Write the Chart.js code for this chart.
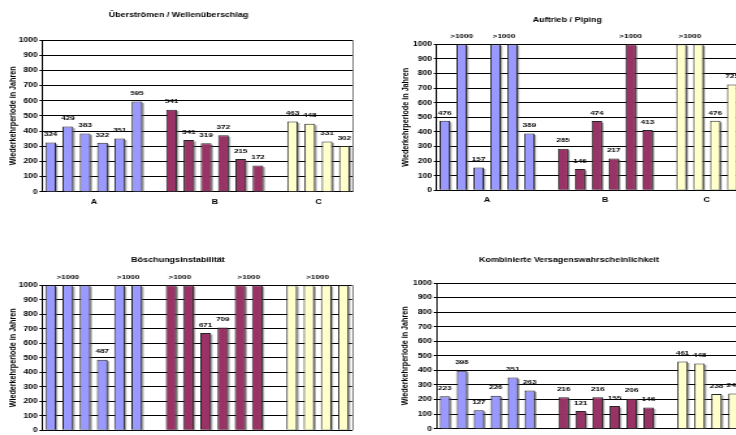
<!DOCTYPE html>
<html>
<head>
<meta charset="utf-8">
<script src="https://cdn.jsdelivr.net/npm/chart.js@4/dist/chart.umd.min.js"></script>
<style>
html, body { margin: 0; padding: 0; background: #fff; overflow: hidden; width: 736px; height: 435px; }
body { position: relative; }
canvas { position: absolute; }
</style>
</head>
<body>
<canvas id="chartUeber"></canvas>
<canvas id="chartPiping"></canvas>
<canvas id="chartBoeschung"></canvas>
<canvas id="chartKombi"></canvas>
<script>
// ---- data ----
const groups = ['A', 'B', 'C'];
const OVER = '>1000';            // return period beyond the axis range
const yMin = 0, yMax = 1000, yStep = 100;
const yTitle = 'Wiederkehrperiode in Jahren';

const titleUeber = 'Überströmen / Wellenüberschlag';
const ueberA = [324, 429, 383, 322, 351, 595];
const ueberB = [541, 341, 319, 372, 215, 172];
const ueberC = [463, 448, 331, 302];

const titlePiping = 'Auftrieb / Piping';
const pipingA = [476, OVER, 157, OVER, OVER, 389];
const pipingB = [285, 146, 474, 217, OVER, 413];
const pipingC = [OVER, OVER, 476, 725];

const titleBoeschung = 'Böschungsinstabilität';
const boeschungA = [OVER, OVER, OVER, 487, OVER, OVER];
const boeschungB = [OVER, OVER, 671, 709, OVER, OVER];
const boeschungC = [OVER, OVER, OVER, OVER];

const titleKombi = 'Kombinierte Versagenswahrscheinlichkeit';
const kombiA = [223, 398, 127, 226, 351, 263];
const kombiB = [216, 121, 216, 155, 206, 146];
const kombiC = [461, 448, 238, 242];

// ---- styling ----
const FAMILY = "'Liberation Sans', Arial, Helvetica, sans-serif";
const groupColors = ['#9999FF', '#993366', '#FFFFCC'];
const SX = 1.3;          // horizontal stretch of the drawing surface
const LABEL_GAP = 8;     // distance of bar labels above the bar top

// bar shadow, drawn behind the bars
const shadowPlugin = {
  id: 'barShadow',
  beforeDatasetsDraw(chart) {
    const ctx = chart.ctx, a = chart.chartArea;
    ctx.save();
    ctx.beginPath();
    ctx.rect(a.left, a.top, a.right - a.left + 4, a.bottom - a.top);
    ctx.clip();
    ctx.fillStyle = 'rgba(90,90,90,0.55)';
    chart.data.datasets.forEach((ds, di) => {
      chart.getDatasetMeta(di).data.forEach(bar => {
        const p = bar.getProps(['x', 'y', 'base', 'width'], true);
        ctx.fillRect(p.x - p.width / 2 + 1.2, p.y + 1.5, p.width, p.base - p.y);
      });
    });
    ctx.restore();
  }
};

// value labels; one label for each run of bars beyond the axis range
const labelPlugin = {
  id: 'barLabels',
  afterDatasetsDraw(chart) {
    const ctx = chart.ctx, a = chart.chartArea;
    ctx.save();
    ctx.fillStyle = '#000';
    ctx.textAlign = 'center';
    ctx.textBaseline = 'middle';
    chart.data.datasets.forEach((ds, di) => {
      const bars = chart.getDatasetMeta(di).data;
      const raw = ds.rawValues;
      ctx.font = `bold 6.2px ${FAMILY}`;
      raw.forEach((v, i) => {
        if (v !== OVER) ctx.fillText(String(v), bars[i].x, bars[i].y - LABEL_GAP);
      });
      let i = 0;
      while (i < raw.length) {
        if (raw[i] === OVER) {
          let j = i;
          while (j + 1 < raw.length && raw[j + 1] === OVER) j++;
          ctx.fillText(OVER, (bars[i].x + bars[j].x) / 2, a.top - LABEL_GAP);
          i = j + 1;
        } else i++;
      }
    });
    ctx.restore();
  }
};

// right edge of the plot area
const framePlugin = {
  id: 'plotFrame',
  afterDraw(chart) {
    const ctx = chart.ctx, a = chart.chartArea;
    ctx.save();
    ctx.strokeStyle = '#808080';
    ctx.lineWidth = 1;
    ctx.beginPath();
    ctx.moveTo(Math.round(a.right) + 0.5, a.top);
    ctx.lineTo(Math.round(a.right) + 0.5, a.bottom);
    ctx.stroke();
    ctx.restore();
  }
};

function buildChart(id, title, series, frame) {
  const cv = document.getElementById(id);
  cv.width = Math.round(frame.width / SX);
  cv.height = frame.height;
  cv.style.left = frame.left + 'px';
  cv.style.top = frame.top + 'px';
  cv.style.width = frame.width + 'px';
  cv.style.height = frame.height + 'px';

  // slot layout: bars of one group side by side, one empty slot between groups
  const starts = [];
  let pos = 0;
  series.forEach(vals => { starts.push(pos); pos += vals.length + 1; });
  const slotCount = pos - 1;
  const centers = series.map((vals, g) => starts[g] + (vals.length - 1) / 2);

  const datasets = series.map((vals, g) => ({
    label: groups[g],
    rawValues: vals,
    data: vals.map((v, i) => ({ x: starts[g] + i, y: v === OVER ? yMax : v })),
    backgroundColor: groupColors[g],
    borderColor: '#262626',
    borderWidth: 1,
    grouped: false,
    barPercentage: 0.62,
    categoryPercentage: 1
  }));

  const titleSize = 6.9, titleLH = titleSize * 1.2;
  const yTitleSize = 7.2, yTitleLH = yTitleSize * 1.2;
  const xTickSize = 6.8, xTickLH = xTickSize * 1.2;
  const yAxisW = (frame.plotLeft - frame.left) / SX;
  const padRight = (frame.left + frame.width - frame.plotRight) / SX;
  const xAxisH = frame.top + frame.height - frame.plotBottom;

  return new Chart(cv, {
    type: 'bar',
    data: { datasets },
    plugins: [shadowPlugin, labelPlugin, framePlugin],
    options: {
      responsive: false,
      animation: false,
      devicePixelRatio: 1,
      layout: { padding: { left: 0, top: 0, right: padRight, bottom: 0 } },
      plugins: {
        legend: { display: false },
        tooltip: { enabled: false },
        title: {
          display: true,
          text: title,
          color: '#000',
          font: { family: FAMILY, size: titleSize, weight: 'bold', lineHeight: 1.2 },
          padding: {
            top: frame.titleY - frame.top - titleLH / 2,
            bottom: frame.plotTop - frame.titleY - titleLH / 2
          }
        }
      },
      scales: {
        x: {
          type: 'linear',
          min: -0.5,
          max: slotCount - 0.5,
          offset: false,
          grid: { display: false, drawTicks: false },
          border: { display: true, color: '#000', width: 1 },
          afterBuildTicks: s => { s.ticks = centers.map(v => ({ value: v })); },
          afterFit: s => { s.height = xAxisH; },
          ticks: {
            autoSkip: false,
            maxRotation: 0,
            padding: 10 - xTickLH / 2,
            color: '#000',
            font: { family: FAMILY, size: xTickSize, weight: 'bold', lineHeight: 1.2 },
            callback: v => groups[centers.indexOf(v)]
          }
        },
        y: {
          min: yMin,
          max: yMax,
          grid: { color: '#000', lineWidth: 1, tickLength: 2 },
          border: { display: true, color: '#000', width: 1 },
          afterFit: s => { s.width = yAxisW; },
          ticks: {
            stepSize: yStep,
            padding: 1.3,
            color: '#000',
            font: { family: FAMILY, size: 6.6, weight: 'bold' },
            callback: v => String(v)
          },
          title: {
            display: true,
            text: yTitle,
            color: '#000',
            font: { family: FAMILY, size: yTitleSize, weight: 'bold', lineHeight: 1.2 },
            padding: { top: (frame.yTitleX - frame.left) / SX - yTitleLH / 2, bottom: 0 }
          }
        }
      }
    }
  });
}

buildChart('chartUeber', titleUeber, [ueberA, ueberB, ueberC],
  { left: 4, top: 0, width: 364, height: 217, plotLeft: 42, plotRight: 353, plotTop: 40, plotBottom: 191.7, titleY: 15.5, yTitleX: 13 });
buildChart('chartPiping', titlePiping, [pipingA, pipingB, pipingC],
  { left: 394, top: 0, width: 358, height: 217, plotLeft: 436.3, plotRight: 740.5, plotTop: 44.3, plotBottom: 190.3, titleY: 20, yTitleX: 405.7 });
buildChart('chartBoeschung', titleBoeschung, [boeschungA, boeschungB, boeschungC],
  { left: 4, top: 217, width: 364, height: 240, plotLeft: 42, plotRight: 352, plotTop: 285.3, plotBottom: 430.3, titleY: 260.3, yTitleX: 13 });
buildChart('chartKombi', titleKombi, [kombiA, kombiB, kombiC],
  { left: 396, top: 217, width: 358, height: 240, plotLeft: 436.3, plotRight: 742, plotTop: 283, plotBottom: 428.7, titleY: 260.3, yTitleX: 405.7 });
</script>
</body>
</html>
